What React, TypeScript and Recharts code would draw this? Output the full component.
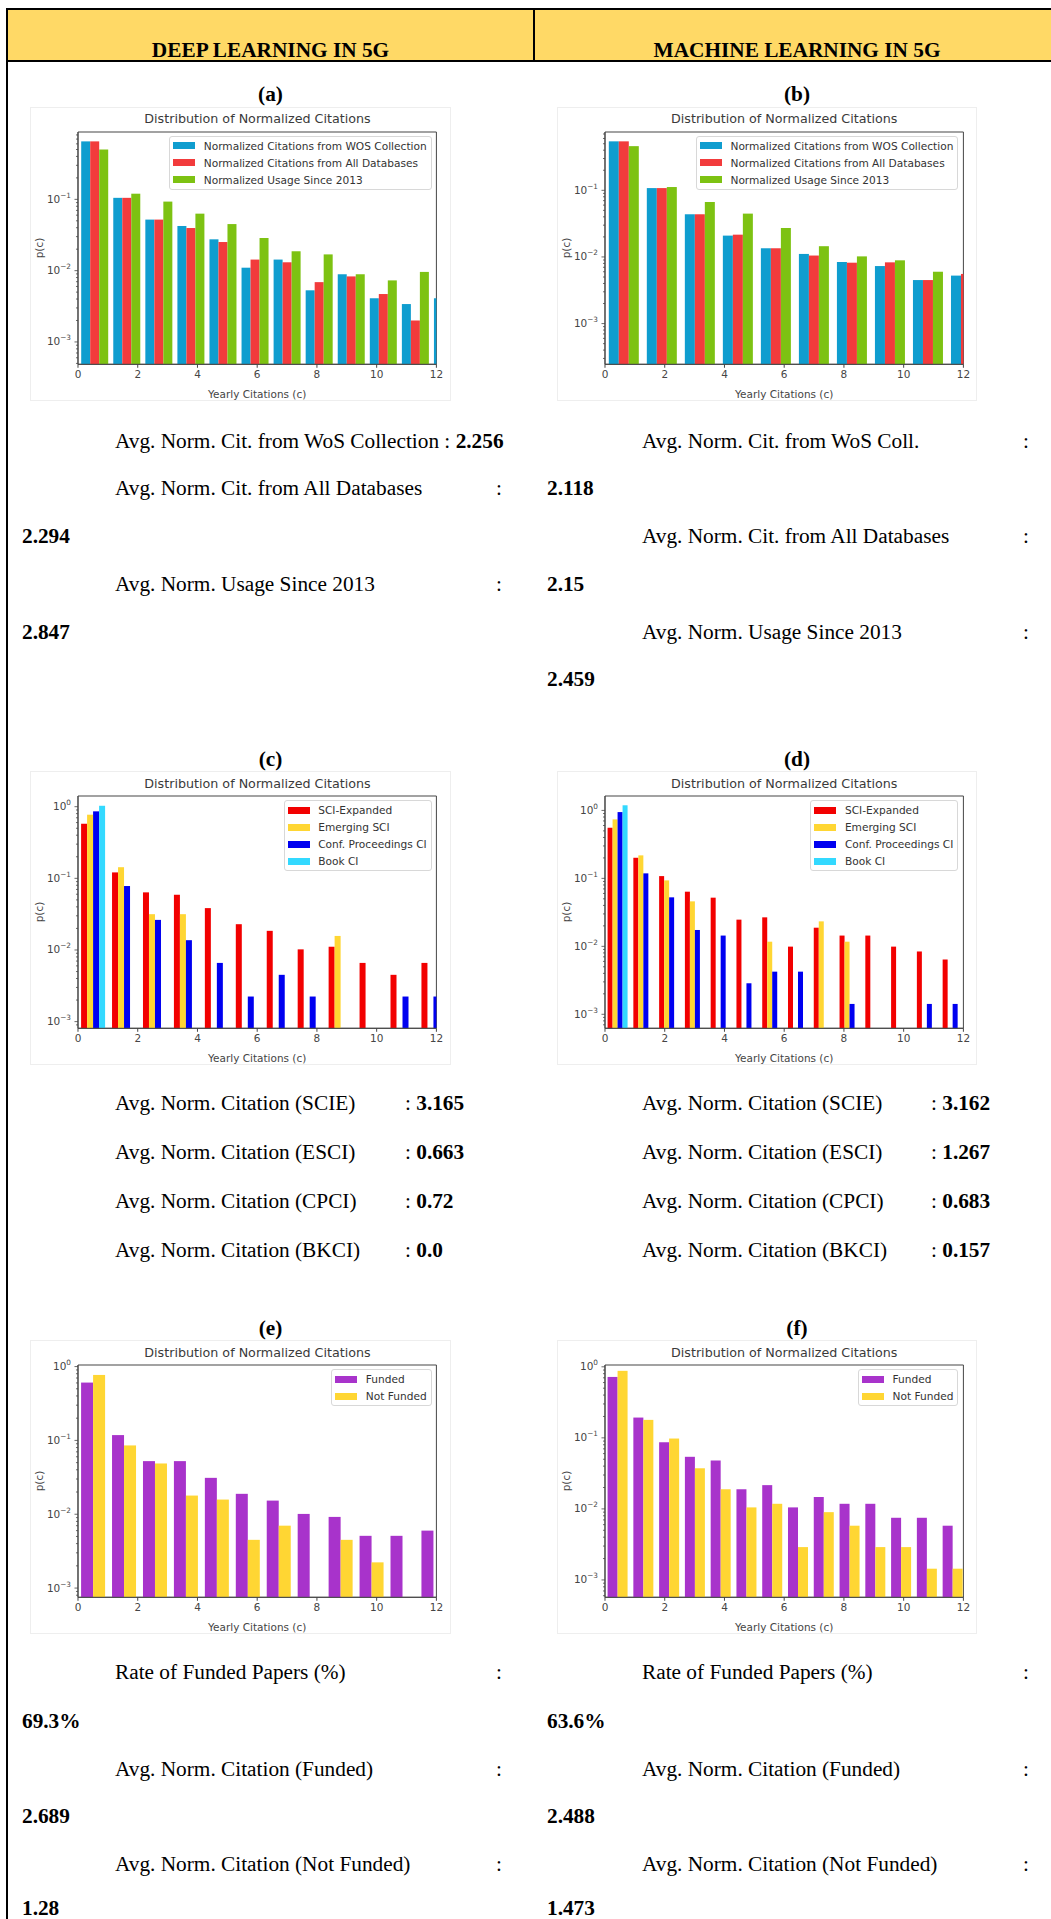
import React from 'react';
import { BarChart, Bar, XAxis, YAxis, ReferenceArea } from 'recharts';

// ---- histogram bin widths (yearly citations per bin) ----
const BIN_A = 1.0737;
const BIN_B = 1.273;
const BIN_C = 1.036;
const BIN_D = 0.863;
const BIN_E = 1.036;
const BIN_F = 0.863;

// ---- (a) deep learning, citation sources ----
const A_WOS = [0.65, 0.105, 0.052, 0.0423, 0.0275, 0.011, 0.0143, 0.0053, 0.0089, 0.0041, 0.0034, 0.0041];
const A_ALL = [0.65, 0.105, 0.052, 0.0396, 0.0252, 0.0143, 0.0131, 0.0069, 0.0083, 0.0047, 0.002, null];
const A_USAGE = [0.5, 0.12, 0.093, 0.063, 0.045, 0.0287, 0.0187, 0.0169, 0.0089, 0.0073, 0.0096, null];

// ---- (b) machine learning, citation sources ----
const B_WOS = [0.543, 0.108, 0.0437, 0.0209, 0.0135, 0.0111, 0.0084, 0.0073, 0.0045, 0.00525];
const B_ALL = [0.543, 0.108, 0.0437, 0.0216, 0.0135, 0.0105, 0.0082, 0.0083, 0.0045, 0.00556];
const B_USAGE = [0.46, 0.112, 0.0668, 0.0447, 0.0272, 0.0145, 0.0102, 0.0089, 0.006, null];

// ---- (c) deep learning, by index ----
const C_SCIE = [0.578, 0.121, 0.0637, 0.059, 0.0384, 0.0229, 0.0185, 0.0102, 0.0111, 0.0066, 0.0045, 0.0066];
const C_ESCI = [0.773, 0.143, 0.0316, 0.0316, null, null, null, null, 0.0157, null, null, null];
const C_CPCI = [0.861, 0.0781, 0.0263, 0.0137, 0.0066, 0.00224, 0.0045, 0.00224, null, null, 0.00224, 0.00224];
const C_BKCI = [1.03, null, null, null, null, null, null, null, null, null, null, null];

// ---- (d) machine learning, by index ----
const D_SCIE = [0.556, 0.201, 0.108, 0.0637, 0.052, 0.0247, 0.0267, 0.0099, 0.0188, 0.0144, 0.0144, 0.0099, 0.0084, 0.0064];
const D_ESCI = [0.738, 0.218, 0.0934, 0.0459, null, null, 0.0117, null, 0.0233, 0.0117, null, null, null, null];
const D_CPCI = [0.945, 0.1185, 0.0526, 0.0174, 0.0144, 0.00286, 0.00424, 0.00424, null, 0.00142, null, null, 0.00142, 0.00142];
const D_BKCI = [1.19, null, null, null, null, null, null, null, null, null, null, null, null, null];

// ---- (e) deep learning, funding ----
const E_FUNDED = [0.607, 0.118, 0.0524, 0.0524, 0.0311, 0.0189, 0.0153, 0.0101, 0.0092, 0.0051, 0.0051, 0.006];
const E_NOT_FUNDED = [0.77, 0.0855, 0.0487, 0.0179, 0.0158, 0.0045, 0.007, null, 0.0045, 0.00223, null, null];

// ---- (f) machine learning, funding ----
const F_FUNDED = [0.72, 0.193, 0.0867, 0.0541, 0.048, 0.0189, 0.0216, 0.0105, 0.0147, 0.0118, 0.0118, 0.0075, 0.0075, 0.0058];
const F_NOT_FUNDED = [0.877, 0.179, 0.0978, 0.0373, 0.0189, 0.0105, 0.0118, 0.0029, 0.009, 0.0058, 0.0029, 0.0029, 0.00144, 0.00144];

// ---- axes ----
const X_TICKS = [0, 2, 4, 6, 8, 10, 12];
const X_DOMAIN = [0, 12];
const DECADES = [1e-4, 1e-3, 1e-2, 1e-1, 1];
const MINOR_STEPS = [1, 2, 3, 4, 5, 6, 7, 8, 9];
const Y_DOMAIN_A = [4.86e-4, 0.88];
const Y_DOMAIN_B = [2.45e-4, 0.75];
const Y_DOMAIN_C = [8.07e-4, 1.41];
const Y_DOMAIN_D = [6.22e-4, 1.63];
const Y_DOMAIN_E = [7.5e-4, 1.05];
const Y_DOMAIN_F = [5.7e-4, 1.06];

// ---- legend names / colours ----
const SOURCE_NAMES = ['Normalized Citations from WOS Collection', 'Normalized Citations from All Databases', 'Normalized Usage Since 2013'];
const SOURCE_COLORS = ['#0f9dcf', '#f23b3c', '#7dc212'];
const INDEX_NAMES = ['SCI-Expanded', 'Emerging SCI', 'Conf. Proceedings CI', 'Book CI'];
const INDEX_COLORS = ['#f20000', '#ffd633', '#0000f0', '#33d9ff'];
const FUND_NAMES = ['Funded', 'Not Funded'];
const FUND_COLORS = ['#a833cb', '#ffd633'];

// ---- text beside the charts ----
const HEADERS = ['DEEP LEARNING IN 5G', 'MACHINE LEARNING IN 5G'];
const SOURCE_LABELS = ['Avg. Norm. Cit. from WoS Collection', 'Avg. Norm. Cit. from All Databases', 'Avg. Norm. Usage Since 2013'];
const DL_SOURCE_AVG = ['2.256', '2.294', '2.847'];
const ML_SOURCE_AVG = ['2.118', '2.15', '2.459'];
const INDEX_LABELS = ['Avg. Norm. Citation (SCIE)', 'Avg. Norm. Citation (ESCI)', 'Avg. Norm. Citation (CPCI)', 'Avg. Norm. Citation (BKCI)'];
const DL_INDEX_AVG = ['3.165', '0.663', '0.72', '0.0'];
const ML_INDEX_AVG = ['3.162', '1.267', '0.683', '0.157'];
const FUND_LABELS = ['Rate of Funded Papers (%)', 'Avg. Norm. Citation (Funded)', 'Avg. Norm. Citation (Not Funded)'];
const DL_FUND = ['69.3%', '2.689', '1.28'];
const ML_FUND = ['63.6%', '2.488', '1.473'];

const PLOT_W = 358.4;
const PLOT_H = 232.3;
const Y_AXIS_W = 47;
const X_AXIS_H = 36;
const PAD_TOP = 24;
const PAD_RIGHT = 13;
const COL_PLOT_X = [78.3, 605];
const COL_CENTER = [270.5, 797];
const ROW_PLOT_Y = [131.7, 796, 1365];
const ROW_LABEL_Y = [94.5, 760, 1328.5];

const AXIS_COLOR = '#454545';
const SANS = "'DejaVu Sans', sans-serif";
const SERIF = "'Liberation Serif', 'Times New Roman', serif";

type Series = { name: string; color: string; values: (number | null)[] };
type PanelCfg = { letter: string; col: number; row: number; bin: number; yDomain: number[]; series: Series[] };

const mk = (names: string[], colors: string[], vals: (number | null)[][]): Series[] =>
    vals.map((v, i) => ({ name: names[i], color: colors[i], values: v }));

const PANELS: PanelCfg[] = [
    { letter: '(a)', col: 0, row: 0, bin: BIN_A, yDomain: Y_DOMAIN_A, series: mk(SOURCE_NAMES, SOURCE_COLORS, [A_WOS, A_ALL, A_USAGE]) },
    { letter: '(b)', col: 1, row: 0, bin: BIN_B, yDomain: Y_DOMAIN_B, series: mk(SOURCE_NAMES, SOURCE_COLORS, [B_WOS, B_ALL, B_USAGE]) },
    { letter: '(c)', col: 0, row: 1, bin: BIN_C, yDomain: Y_DOMAIN_C, series: mk(INDEX_NAMES, INDEX_COLORS, [C_SCIE, C_ESCI, C_CPCI, C_BKCI]) },
    { letter: '(d)', col: 1, row: 1, bin: BIN_D, yDomain: Y_DOMAIN_D, series: mk(INDEX_NAMES, INDEX_COLORS, [D_SCIE, D_ESCI, D_CPCI, D_BKCI]) },
    { letter: '(e)', col: 0, row: 2, bin: BIN_E, yDomain: Y_DOMAIN_E, series: mk(FUND_NAMES, FUND_COLORS, [E_FUNDED, E_NOT_FUNDED]) },
    { letter: '(f)', col: 1, row: 2, bin: BIN_F, yDomain: Y_DOMAIN_F, series: mk(FUND_NAMES, FUND_COLORS, [F_FUNDED, F_NOT_FUNDED]) },
];

const logTicks = (lo: number, hi: number) => {
    const out: number[] = [];
    DECADES.forEach(d => MINOR_STEPS.forEach(m => {
        const v = m * d;
        if (v >= lo && v <= hi) out.push(v);
    }));
    return out;
};

// log axis tick: "10" with superscript exponent on decades, short unlabeled marks otherwise
const LogTick = ({ x, y, payload }: any) => {
    const lg = Math.log10(payload.value);
    const e = Math.round(lg);
    const major = Math.abs(lg - e) < 1e-6;
    return (
        <g>
            <line x1={x - (major ? 3.5 : 2)} x2={x} y1={y} y2={y} stroke={AXIS_COLOR} strokeWidth={0.8} />
            {major && (
                <text x={x - 7} y={y + 3.5} textAnchor="end" fontSize={10.5} fill={AXIS_COLOR} fontFamily={SANS}>
                    10<tspan dy={-5} fontSize={7.3}>{e === 0 ? '0' : `\u2212${-e}`}</tspan>
                </text>
            )}
        </g>
    );
};

const BarShape = (p: any) => {
    const { x, y, width, height, fill } = p;
    if (![x, y, width, height].every(Number.isFinite) || height <= 0 || width <= 0) return null;
    return <rect x={x} y={y} width={width} height={height} fill={fill} />;
};

function Panel({ cfg }: { cfg: PanelCfg }) {
    const plotX = COL_PLOT_X[cfg.col];
    const plotY = ROW_PLOT_Y[cfg.row];
    const rows = cfg.series[0].values.map((_, i) => {
        const r: Record<string, number | null> = { c: (i + 0.5) * cfg.bin };
        cfg.series.forEach((s, k) => { r[`s${k}`] = s.values[i]; });
        return r;
    });
    const boxW = Y_AXIS_W + PLOT_W + PAD_RIGHT;
    const boxH = PAD_TOP + PLOT_H + X_AXIS_H;
    return (
        <>
            <div style={{
                position: 'absolute', left: COL_CENTER[cfg.col] - 30, width: 60, top: ROW_LABEL_Y[cfg.row] - 13,
                textAlign: 'center', fontFamily: SERIF, fontWeight: 700, fontSize: 21.3, lineHeight: '24px',
            }}>{cfg.letter}</div>
            <div style={{
                position: 'absolute', left: plotX - Y_AXIS_W, top: plotY - PAD_TOP, width: boxW, height: boxH,
                overflow: 'hidden', outline: '1px solid #eeeeee',
            }}>
                <div style={{
                    position: 'absolute', left: Y_AXIS_W - 20, width: PLOT_W + 40, top: PAD_TOP - 20.5, lineHeight: '16px',
                    textAlign: 'center', fontFamily: SANS, fontSize: 12.7, color: '#3a3a3a', whiteSpace: 'nowrap',
                }}>Distribution of Normalized Citations</div>
                <div style={{
                    position: 'absolute', left: 8, top: PAD_TOP + PLOT_H / 2 - 8, lineHeight: '16px',
                    fontFamily: SANS, fontSize: 10.5, color: AXIS_COLOR, transform: 'translateX(-50%) rotate(-90deg)',
                    transformOrigin: 'center', whiteSpace: 'nowrap',
                }}>p(c)</div>
                <BarChart
                    width={boxW}
                    height={boxH}
                    data={rows}
                    margin={{ top: PAD_TOP, right: PAD_RIGHT, bottom: 0, left: 0 }}
                    barCategoryGap="10%"
                    barGap={0}
                >
                    <XAxis
                        dataKey="c"
                        type="number"
                        domain={X_DOMAIN}
                        allowDataOverflow
                        ticks={X_TICKS}
                        interval={0}
                        height={X_AXIS_H}
                        tickSize={3.5}
                        tickMargin={2.5}
                        stroke={AXIS_COLOR}
                        tick={{ fontSize: 10.5, fill: AXIS_COLOR, fontFamily: SANS }}
                        label={{ value: 'Yearly Citations (c)', position: 'insideBottom', offset: 2, fontSize: 10.5, fill: AXIS_COLOR, fontFamily: SANS }}
                    />
                    <YAxis
                        type="number"
                        scale="log"
                        domain={cfg.yDomain}
                        allowDataOverflow
                        ticks={logTicks(cfg.yDomain[0], cfg.yDomain[1])}
                        interval={0}
                        width={Y_AXIS_W}
                        tickSize={0}
                        tickMargin={0}
                        tickLine={false}
                        stroke={AXIS_COLOR}
                        tick={<LogTick />}
                    />
                    {cfg.series.map((s, k) => (
                        <Bar key={s.name} dataKey={`s${k}`} name={s.name} fill={s.color} shape={BarShape} isAnimationActive={false} />
                    ))}
                    <ReferenceArea x1={X_DOMAIN[0]} x2={X_DOMAIN[1]} y1={cfg.yDomain[0]} y2={cfg.yDomain[1]}
                        fill="none" stroke={AXIS_COLOR} strokeWidth={1} ifOverflow="visible" />
                </BarChart>
                <div style={{
                    position: 'absolute', right: PAD_RIGHT + 5, top: PAD_TOP + 4.3, padding: '0.5px 4px 0.5px 3px',
                    border: '1px solid #d8d8d8', borderRadius: 3, background: 'rgba(255,255,255,0.85)',
                }}>
                    {cfg.series.map(s => (
                        <div key={s.name} style={{ display: 'flex', alignItems: 'center', height: 17 }}>
                            <div style={{ width: 22, height: 7, background: s.color, marginRight: 8.5 }} />
                            <span style={{ fontFamily: SANS, fontSize: 10.6, color: '#333', whiteSpace: 'nowrap' }}>{s.name}</span>
                        </div>
                    ))}
                </div>
            </div>
        </>
    );
}

const T = ({ x, y, bold, children }: { x: number; y: number; bold?: boolean; children: React.ReactNode }) => (
    <div style={{
        position: 'absolute', left: x, top: y - 12.2, fontFamily: SERIF, fontSize: 21.3, lineHeight: '22px',
        whiteSpace: 'nowrap', fontWeight: bold ? 700 : 400, color: '#000',
    }}>{children}</div>
);

export default function App() {
    const s1 = [441.7, 489.3, 537, 585, 633, 680];
    const s2 = [1104, 1153, 1202, 1251];
    const s3 = [1673, 1722, 1770, 1817, 1865, 1909];
    return (
        <div style={{ position: 'absolute', left: 0, top: 0, width: 1051, height: 1919, background: '#fff', overflow: 'hidden' }}>
            {/* table header */}
            <div style={{ position: 'absolute', left: 6, top: 8, width: 1060, height: 53, background: '#ffd966' }} />
            <div style={{ position: 'absolute', left: 6, top: 8, width: 1060, height: 2, background: '#000' }} />
            <div style={{ position: 'absolute', left: 6, top: 60, width: 1060, height: 2, background: '#000' }} />
            <div style={{ position: 'absolute', left: 6, top: 8, width: 2, height: 1911, background: '#000' }} />
            <div style={{ position: 'absolute', left: 533, top: 8, width: 1.5, height: 53, background: '#000' }} />
            {HEADERS.map((h, i) => (
                <div key={h} style={{
                    position: 'absolute', left: COL_CENTER[i] - 200, width: 400, top: 37.5, textAlign: 'center',
                    fontFamily: SERIF, fontWeight: 700, fontSize: 21.3, lineHeight: '24px',
                }}>{h}</div>
            ))}

            {PANELS.map(p => <Panel key={p.letter} cfg={p} />)}

            {/* citation sources */}
            <T x={115} y={s1[0]}>{SOURCE_LABELS[0]} : <b>{DL_SOURCE_AVG[0]}</b></T>
            <T x={115} y={s1[1]}>{SOURCE_LABELS[1]}</T>
            <T x={496} y={s1[1]}>:</T>
            <T x={22} y={s1[2]} bold>{DL_SOURCE_AVG[1]}</T>
            <T x={115} y={s1[3]}>{SOURCE_LABELS[2]}</T>
            <T x={496} y={s1[3]}>:</T>
            <T x={22} y={s1[4]} bold>{DL_SOURCE_AVG[2]}</T>

            <T x={642} y={s1[0]}>Avg. Norm. Cit. from WoS Coll.</T>
            <T x={1023} y={s1[0]}>:</T>
            <T x={547} y={s1[1]} bold>{ML_SOURCE_AVG[0]}</T>
            <T x={642} y={s1[2]}>{SOURCE_LABELS[1]}</T>
            <T x={1023} y={s1[2]}>:</T>
            <T x={547} y={s1[3]} bold>{ML_SOURCE_AVG[1]}</T>
            <T x={642} y={s1[4]}>{SOURCE_LABELS[2]}</T>
            <T x={1023} y={s1[4]}>:</T>
            <T x={547} y={s1[5]} bold>{ML_SOURCE_AVG[2]}</T>

            {/* citation index */}
            {INDEX_LABELS.map((l, i) => (
                <React.Fragment key={l}>
                    <T x={115} y={s2[i]}>{l}</T>
                    <T x={405} y={s2[i]}>: <b>{DL_INDEX_AVG[i]}</b></T>
                    <T x={642} y={s2[i]}>{l}</T>
                    <T x={931} y={s2[i]}>: <b>{ML_INDEX_AVG[i]}</b></T>
                </React.Fragment>
            ))}

            {/* funding */}
            {FUND_LABELS.map((l, i) => (
                <React.Fragment key={l}>
                    <T x={115} y={s3[i * 2]}>{l}</T>
                    <T x={496} y={s3[i * 2]}>:</T>
                    <T x={22} y={s3[i * 2 + 1]} bold>{DL_FUND[i]}</T>
                    <T x={642} y={s3[i * 2]}>{l}</T>
                    <T x={1023} y={s3[i * 2]}>:</T>
                    <T x={547} y={s3[i * 2 + 1]} bold>{ML_FUND[i]}</T>
                </React.Fragment>
            ))}
        </div>
    );
}
